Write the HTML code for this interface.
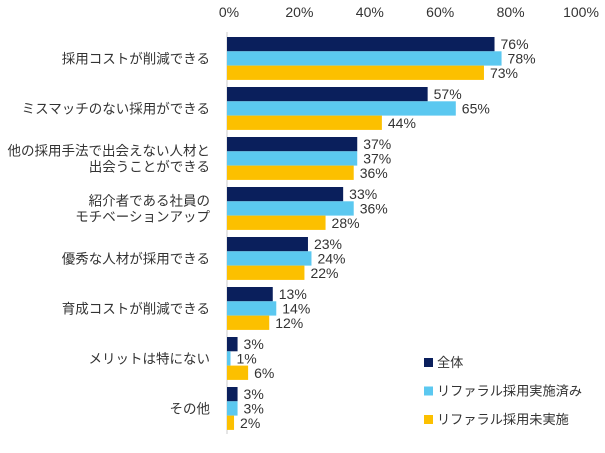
<!DOCTYPE html>
<html><head><meta charset="utf-8"><style>
body{margin:0;background:#fff;width:605px;height:448px;overflow:hidden;font-family:"Liberation Sans","Noto Sans CJK JP",sans-serif}
</style></head><body>
<svg id="c" width="605" height="448" style="font-family:'Liberation Sans','Noto Sans CJK JP',sans-serif"></svg>
<script>
const categories=[["採用コストが削減できる"],["ミスマッチのない採用ができる"],["他の採用手法で出会えない人材と","出会うことができる"],["紹介者である社員の","モチベーションアップ"],["優秀な人材が採用できる"],["育成コストが削減できる"],["メリットは特にない"],["その他"]];
const seriesNames=["全体","リファラル採用実施済み","リファラル採用未実施"];
const seriesAll=[76,57,37,33,23,13,3,3];
const seriesDone=[78,65,37,36,24,14,1,3];
const seriesNot=[73,44,36,28,22,12,6,2];
const ticks=[0,20,40,60,80,100];
const colors=["#0a1f5c","#5bc8f0","#fcc000"];
const svg=document.getElementById('c');const NS="http://www.w3.org/2000/svg";
const x0=227,sx=3.52,y0=37,gh=50,bh=14.3;
const X=v=>x0+v*sx;
function mk(t,a,txt){const e=document.createElementNS(NS,t);for(const k in a)e.setAttribute(k,a[k]);if(txt!=null)e.textContent=txt;svg.appendChild(e);return e;}
ticks.forEach(t=>{const e=mk('text',{x:X(t)+2,y:17,'text-anchor':'middle','font-size':14,fill:'#333'},t+'%');

});
const ax=mk('line',{x1:x0,x2:x0,y1:32,y2:434,stroke:'#ccc'});


const data=[seriesAll,seriesDone,seriesNot];
categories.forEach((c,i)=>{const gy=y0+i*gh;
 c.forEach((line,j)=>{const yy=gy+bh*1.5+5+(j-(c.length-1)/2)*16;
  const e=mk('text',{x:210,y:yy,'text-anchor':'end','font-size':13.5,fill:'#333'},line);
  
  });
 data.forEach((s,k)=>{const y=gy+k*bh;
  const r=mk('rect',{x:x0,y:y,width:s[i]*sx,height:bh,fill:colors[k]});
  
  
  const t=mk('text',{x:X(s[i])+6,y:y+bh/2+5,'font-size':14,fill:'#333'},s[i]+'%');
  
  });
});
seriesNames.forEach((n,k)=>{const y=358+k*28.5;
 const r=mk('rect',{x:424,y:y,width:9,height:9,fill:colors[k]});
 
 
 const t=mk('text',{x:437,y:y+9,'font-size':13.2,fill:'#333'},n);
 
 });
</script>
</body></html>
